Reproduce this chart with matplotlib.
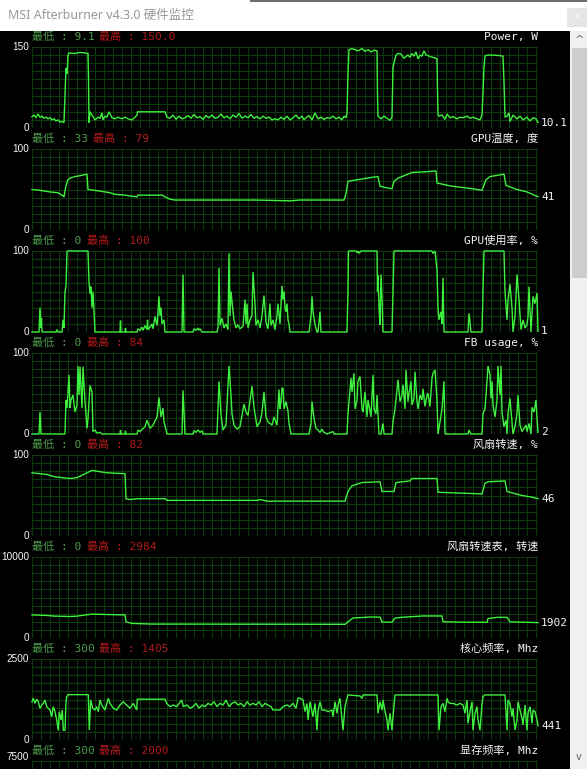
import matplotlib.pyplot as plt
import numpy as np
from matplotlib.patches import Rectangle
from matplotlib.transforms import blended_transform_factory

W, H = 587, 769
plt.rcParams['font.family'] = ['Noto Sans CJK SC', 'DejaVu Sans']

# time axis: one sample per step, window of 506 samples
POWER_T = [0, 2, 4, 6, 8, 10, 12, 14, 16, 18, 20, 22, 24, 26, 28, 30, 32, 33, 34, 35, 36, 37, 43, 48, 53, 56,
           56.5, 57, 58, 60, 63, 66, 68, 70, 71, 73, 75, 77, 80, 83, 86, 90, 93, 96, 100, 103, 105, 105.5,
           133, 135, 138, 141, 144, 147, 150, 153, 156, 159, 162, 165, 168, 171, 174, 177, 180, 183, 186,
           189, 192, 195, 198, 201, 204, 207, 210, 213, 216, 219, 222, 225, 228, 231, 234, 237, 240, 243,
           246, 249, 252, 255, 258, 261, 264, 267, 270, 272, 274, 277, 280, 283, 286, 289, 292, 295, 298,
           301, 304, 307, 310, 312, 314, 315, 316, 317, 320, 323, 326, 330, 333, 336, 339, 342, 345, 345.5,
           346, 349, 352, 355, 358, 360, 361, 362, 363, 364, 366, 369, 372, 375, 376, 378, 380, 382, 384,
           386, 388, 390, 392, 394, 396, 400, 403, 405, 405.5, 406, 407, 410, 413, 415, 418, 421, 425, 428,
           431, 435, 438, 441, 445, 448, 450, 451, 452, 453, 455, 461, 468, 471, 472, 473, 475, 477, 478,
           481, 485, 488, 491, 495, 498, 501, 504, 506]
POWER_V = [21, 24, 19, 26, 20, 22, 18, 20, 17, 19, 15, 17, 13, 15, 11, 12, 10, 60, 111, 100, 135, 139, 138, 140,
           139, 138, 94, 10, 30, 24, 15, 20, 18, 28, 15, 22, 20, 30, 19, 17, 20, 17, 20, 17, 15, 20, 24, 30,
           30, 20, 18, 24, 16, 22, 17, 19, 23, 18, 25, 19, 21, 16, 23, 19, 24, 18, 20, 26, 19, 22, 17, 24,
           20, 27, 18, 22, 19, 25, 18, 21, 17, 22, 18, 20, 15, 17, 15, 20, 16, 22, 15, 19, 24, 17, 22, 15,
           19, 23, 15, 28, 17, 20, 16, 19, 18, 22, 17, 20, 15, 22, 19, 28, 100, 145, 147, 145, 143, 147,
           142, 145, 141, 144, 143, 60, 22, 17, 22, 18, 14, 20, 113, 120, 128, 135, 138, 137, 129, 134, 135,
           131, 138, 133, 141, 128, 135, 133, 143, 135, 134, 131, 130, 128, 70, 25, 22, 24, 16, 26, 19, 21,
           17, 20, 19, 22, 18, 20, 17, 15, 24, 65, 113, 133, 135, 135, 134, 133, 85, 20, 22, 28, 12, 24, 17,
           22, 15, 20, 13, 19, 17, 10.1]

TEMP_T = [0, 8, 18, 26, 31, 32, 34, 36, 38, 43, 48, 55, 56, 63, 68, 78, 83, 93, 98, 105, 106, 130, 133, 138,
          143, 223, 258, 268, 312, 314, 316, 320, 330, 340, 346, 348, 355, 360, 362, 366, 372, 380, 395, 404,
          405, 420, 440, 450, 454, 458, 468, 472, 474, 485, 495, 506]
TEMP_V = [50, 49, 47, 46, 42, 41, 55, 62, 64, 66, 67, 69, 50, 49, 48, 46, 44, 43, 42, 41, 43, 43, 41, 38,
          37, 37, 36, 37, 37, 45, 60, 61, 63, 65, 66, 54, 52, 51, 60, 64, 67, 71, 72, 73,
          58, 54, 51, 49, 62, 66, 68, 69, 55, 50, 47, 41]

USAGE_T = [0, 7, 8, 9, 9.5, 10, 24, 25, 26, 30, 31, 32, 33, 34, 35, 56, 56.5, 57, 58, 59, 60, 61, 62, 63, 88,
           88.5, 89, 93, 93.5, 94, 105, 106, 108, 110, 111, 113, 115, 115.5, 116, 118, 120, 121, 123, 125,
           126, 127, 128, 129, 130, 132, 133, 150, 151, 152, 161, 162, 164, 166, 167, 168, 170, 185, 186,
           187, 188, 190, 192, 194, 196, 197, 198, 199, 201, 202, 204, 206, 208, 211, 213, 214, 215, 216,
           218, 220, 221, 223, 224, 226, 228, 230, 232, 234, 236, 238, 239, 241, 243, 245, 246, 248, 250,
           251, 252, 253, 254, 255, 256, 257, 258, 277, 279, 280, 281, 283, 285, 286, 288, 289, 315, 316,
           316.5, 324, 325, 326, 327, 329, 345, 345.5, 346, 347, 348, 349, 350, 351, 360, 361, 362, 400,
           401, 403, 405, 406, 407, 409, 410, 411, 412, 436, 437, 439, 450, 451, 452, 472, 473, 475, 476,
           478, 480, 481, 483, 485, 487, 489, 491, 493, 495, 496, 497, 499, 501, 503, 505, 506]
USAGE_V = [0, 0, 30, 5, 17, 0, 0, 3, 0, 0, 15, 5, 50, 56, 100, 100, 81, 62, 47, 56, 30, 50, 25, 0, 0,
           14, 0, 0, 5, 0, 0, 4, 2, 6, 2, 8, 3, 15, 3, 6, 10, 4, 19, 8,
           25, 44, 20, 30, 10, 15, 0, 0, 71, 0, 0, 4, 2, 5, 2, 4, 0, 0, 5,
           79, 8, 17, 5, 10, 3, 97, 20, 50, 25, 15, 5, 9, 4, 7, 40, 10, 35, 5,
           15, 20, 74, 35, 8, 15, 5, 20, 45, 12, 4, 35, 8, 15, 3, 20, 35, 10, 57,
           40, 50, 30, 25, 35, 15, 10, 0, 0, 19, 44, 25, 9, 0, 0, 25, 0, 0, 50,
           100, 100, 98, 100, 97, 100, 100, 50, 70, 30, 9, 71, 42, 0, 0, 50, 100, 100,
           97, 100, 77, 30, 15, 25, 10, 67, 0, 0, 23, 0, 0, 50, 100, 100, 50, 15, 40,
           59, 30, 0, 19, 71, 40, 3, 15, 5, 9, 19, 56, 0, 44, 35, 48, 1]

FB_T = [0, 7, 8, 9, 33, 34, 35, 37, 38, 39, 41, 43, 45, 46, 47, 48, 50, 51, 53, 55, 56, 58, 60, 61, 63, 65,
        68, 70, 88, 88.5, 89, 93, 93.5, 94, 105, 106, 108, 113, 115, 118, 121, 125, 127, 129, 131, 132, 135,
        150, 151, 153, 161, 162, 164, 166, 168, 170, 171, 185, 186, 187, 189, 191, 194, 197, 199, 200, 202,
        205, 208, 212, 214, 216, 220, 222, 225, 228, 230, 232, 234, 236, 240, 242, 245, 247, 248, 249, 250,
        251, 252, 254, 256, 257, 259, 277, 279, 280, 282, 284, 286, 288, 290, 291, 295, 301, 302, 315, 316,
        319, 320, 322, 323, 325, 326, 328, 330, 331, 333, 335, 336, 339, 341, 342, 344, 345, 347, 349, 351,
        352, 360, 361, 363, 365, 366, 368, 370, 371, 373, 374, 376, 377, 379, 380, 382, 383, 385, 386, 388,
        390, 391, 393, 395, 396, 398, 400, 401, 403, 405, 406, 408, 410, 412, 413, 436, 437, 439, 450, 451,
        453, 455, 456, 458, 459, 460, 461, 463, 465, 466, 468, 469, 470, 472, 474, 475, 476, 478, 480, 481,
        483, 485, 486, 488, 490, 491, 494, 495, 497, 499, 500, 502, 504, 505, 506]
FB_V = [0, 0, 27, 0, 0, 42, 32, 73, 32, 42, 48, 27, 36, 84, 48, 83, 32, 83, 40, 7, 19, 60, 52, 3, 5, 1,
        2, 0, 0, 5, 0, 0, 4, 0, 0, 5, 3, 9, 17, 7, 11, 21, 45, 21, 32, 15, 0,
        0, 54, 0, 0, 4, 2, 5, 2, 4, 0, 0, 31, 65, 23, 5, 11, 84, 48, 25, 11,
        6, 9, 37, 27, 23, 59, 33, 9, 15, 27, 52, 21, 15, 11, 21, 11, 55, 31, 40, 57,
        56, 31, 40, 28, 13, 0, 0, 13, 40, 19, 7, 5, 2, 6, 3, 0, 3, 0, 0, 25,
        69, 52, 75, 31, 42, 65, 71, 31, 27, 52, 21, 42, 21, 73, 31, 25, 48, 0, 0, 13,
        0, 0, 15, 31, 54, 67, 40, 48, 61, 31, 79, 40, 50, 65, 36, 44, 77, 40, 31, 48,
        42, 56, 34, 48, 50, 34, 69, 75, 79, 42, 0, 15, 31, 65, 0, 0, 5, 0, 0, 25,
        31, 65, 84, 73, 44, 65, 36, 21, 42, 84, 48, 84, 27, 9, 17, 0, 25, 44, 15, 0,
        9, 25, 48, 11, 3, 5, 11, 3, 13, 0, 33, 27, 42, 20, 2]

FAN_T = [0, 15, 23, 38, 45, 60, 65, 75, 93, 94, 98, 105, 133, 135, 226, 228, 235, 268, 313, 316, 320, 330,
         348, 350, 362, 364, 378, 380, 405, 406, 450, 453, 456, 473, 475, 490, 500, 506]
FAN_V = [78, 76, 73, 71, 72, 81, 80, 78, 77, 46, 45, 46, 46, 44, 44, 45, 43, 43, 43, 55, 62, 66,
         67, 55, 55, 66, 68, 71, 71, 54, 52, 65, 67, 68, 55, 50, 48, 46]

RPM_T = [0, 15, 23, 38, 45, 60, 75, 93, 94, 100, 120, 313, 316, 321, 338, 348, 350, 360, 363, 370, 391, 410,
         411, 428, 455, 456, 465, 475, 478, 490, 506]
RPM_V = [2850, 2780, 2700, 2650, 2700, 2950, 2900, 2850, 2000, 1800, 1720, 1690, 2000, 2470, 2590, 2580,
         1970, 1950, 2450, 2560, 2720, 2720, 2010, 1950, 1940, 2400, 2550, 2550, 2000, 1950, 1902]

CORE_T = [0, 1.3, 3, 4.7, 6.3, 8, 9.7, 11.3, 13, 14.7, 18, 19.7, 21.3, 23, 24.7, 26.3, 27.3, 29, 30.3, 31.3,
          33, 34, 34.7, 36.3, 56.3, 57.3, 58.7, 60.7, 63, 64.7, 66.3, 68, 69.7, 73, 76.3, 78, 81.3, 84.7, 88,
          91.3, 94.7, 98, 101.3, 104.7, 105.3, 133, 134.7, 138, 141.3, 144.7, 149.7, 151.3, 155, 158, 161,
          164, 167, 170, 173, 176, 179, 182, 185, 188, 191, 194, 197, 200, 203, 206, 209, 212, 215, 218, 221,
          224, 227, 230, 233, 236, 239, 241, 248, 251, 255, 258, 261, 264, 266, 268, 271, 273, 275, 276, 278,
          281, 283, 285, 286, 288, 290, 293, 296, 300, 301, 303, 305, 306, 308, 310, 311, 313, 315, 316, 328,
          330, 331, 345, 346, 348, 350, 351, 353, 355, 356, 358, 360, 361, 363, 406, 407, 409, 411, 413, 415,
          416, 418, 421, 425, 428, 431, 433, 435, 436, 438, 440, 441, 443, 445, 446, 448, 450, 451, 453, 473,
          475, 476, 478, 480, 481, 483, 485, 486, 488, 490, 491, 493, 495, 496, 498, 500, 501, 503, 505, 506]
CORE_V = [1180, 1290, 1130, 1260, 1180, 980, 1080, 1130, 1235, 1030, 925, 720, 1030, 875, 620, 300, 875, 620,
          925, 300, 300, 1180, 1340, 1400, 1400, 310, 1235, 980, 925, 1030, 875, 1235, 1080, 925, 1290, 1130,
          980, 925, 1080, 1180, 1080, 980, 1130, 925, 1260, 1260, 1130, 1030, 1080, 1030, 1235, 1030, 1080,
          980, 1030, 1130, 980, 1080, 1030, 1130, 1080, 1180, 1030, 1130, 1080, 1230, 1030, 1130, 1180, 1080,
          1130, 1030, 1180, 1080, 1130, 1080, 1180, 1030, 1130, 1080, 1030, 926, 926, 1030, 1080, 1030, 1130,
          980, 1290, 1290, 1235, 875, 1130, 620, 1180, 720, 1130, 300, 875, 1180, 925, 925, 875, 925, 720,
          1180, 825, 1080, 1285, 620, 300, 1030, 1285, 1390, 1360, 1285, 1390, 1390, 825, 1180, 925, 1235,
          875, 620, 300, 825, 300, 720, 1390, 1390, 300, 1030, 1130, 875, 1285, 1180, 1130, 1130, 1080, 1130,
          1080, 825, 1235, 515, 875, 1180, 300, 825, 1030, 620, 300, 1130, 1340, 1390, 1390, 300, 1235, 1130,
          720, 975, 310, 620, 1180, 925, 670, 465, 1080, 300, 825, 1030, 515, 925, 875, 620, 441]

TITLES = ["Power, W", "GPU温度, 度", "GPU使用率, %", "FB usage, %", "风扇转速, %",
          "风扇转速表, 转速", "核心频率, Mhz", "显存频率, Mhz"]
LOWS = ["9.1", "33", "0", "0", "0", "0", "300", "300"]
HIGHS = ["150.0", "79", "100", "84", "82", "2984", "1405", "2000"]
YMAX = [150, 100, 100, 100, 100, 10000, 2500, 7500]
CURRENT = ["10.1", "41", "1", "2", "46", "1902", "441", None]
SERIES = [(POWER_T, POWER_V), (TEMP_T, TEMP_V), (USAGE_T, USAGE_V), (FB_T, FB_V),
          (FAN_T, FAN_V), (RPM_T, RPM_V), (CORE_T, CORE_V), None]

LINE = '#3ef03e'
GRID = '#0e380e'
LOW = '#4c9c4c'
HIGH = '#b41a1a'
WHITE = '#f4f4f4'
MONO = ['DejaVu Sans Mono', 'Noto Sans CJK SC']

fig = plt.figure(figsize=(W / 100, H / 100), dpi=100)
fig.patch.set_facecolor('white')


def fx(x):
    return x / W


def fy(y):
    return 1 - y / H


def box(x0, y0, x1, y1, color):
    fig.add_artist(Rectangle((fx(x0), fy(y1)), (x1 - x0) / W, (y1 - y0) / H,
                             transform=fig.transFigure, facecolor=color, lw=0, zorder=-5))


# window chrome
box(0, 31, 570, H, 'black')
box(570, 31, W, H, '#f0f0f0')
box(572, 48, W, 278, '#cdcdcd')
box(567, 8, W, 27, '#e6e6e6')
box(250, 0, W, 2, '#6e6e6e')
fig.text(fx(8), fy(16), "MSI Afterburner v4.3.0 硬件监控", color='#989898', fontsize=9,
         family=['Noto Sans', 'Noto Sans CJK SC'], va='center')
fig.text(fx(577), fy(17), "×", color='#fafafa', fontsize=8, ha='center', va='center')
fig.text(fx(579), fy(40), "^", color='#606060', fontsize=8, ha='center', va='center', family='DejaVu Sans')
fig.text(fx(579), fy(757), "v", color='#606060', fontsize=7, ha='center', va='center', family='DejaVu Sans')

for i in range(8):
    top = 47 + 102 * i
    ax = fig.add_axes([fx(32), fy(top + 81), 506 / W, 81 / H])
    ax.set_facecolor('black')
    ax.set_xlim(0, 506)
    ax.set_ylim(0, YMAX[i])
    ax.set_xticks(np.arange(0, 507, 9))
    ax.set_yticks(np.linspace(0, YMAX[i], 11))
    ax.grid(True, color=GRID, lw=0.8)
    ax.tick_params(length=0, labelleft=False, labelbottom=False)
    for s in ax.spines.values():
        s.set_visible(False)

    if SERIES[i] is not None:
        t, v = SERIES[i]
        ax.plot(t, v, color=LINE, lw=1.0, clip_on=False, solid_joinstyle='miter')

    trans = blended_transform_factory(ax.transAxes, ax.transData)
    top_label = ax.text(-0.006, YMAX[i], str(YMAX[i]), transform=trans, ha='right', va='center',
                        color=WHITE, fontsize=7.2, family='Liberation Sans', clip_on=False)
    if i == 7:
        # last panel is cut by the window edge: only its header and top label show
        top_label.set_va('bottom')
        top_label.set_y(YMAX[i] * 0.985)
    else:
        ax.text(-0.006, 0, "0", transform=trans, ha='right', va='center',
                color=WHITE, fontsize=7.2, family='Liberation Sans', clip_on=False)
    if CURRENT[i] is not None:
        ax.text(1.006, SERIES[i][1][-1], CURRENT[i], transform=trans, ha='left', va='center',
                color=WHITE, fontsize=8, family=MONO, clip_on=False)

    hy = top - 10
    fig.text(fx(32), fy(hy), f"最低 : {LOWS[i]}", color=LOW, fontsize=8, family=MONO, va='center')
    red_x = 32 + 24 + 6 * (3 + len(LOWS[i])) + 7
    fig.text(fx(red_x), fy(hy), f"最高 : {HIGHS[i]}", color=HIGH, fontsize=8, family=MONO, va='center')
    fig.text(fx(538), fy(hy), TITLES[i], color=WHITE, fontsize=8, family=MONO, ha='right', va='center')

fig.savefig("out.png", dpi=100)
